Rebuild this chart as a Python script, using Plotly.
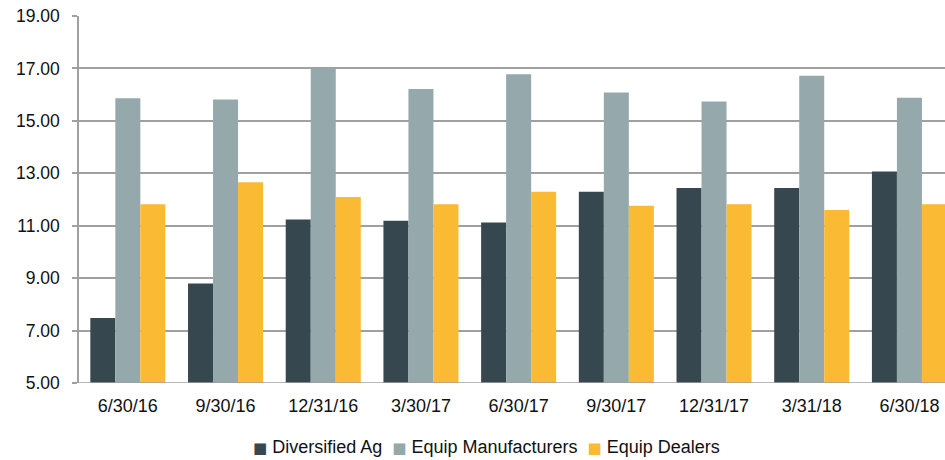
import plotly.graph_objects as go

# Quarter-end dates
quarters = ["6/30/16", "9/30/16", "12/31/16", "3/30/17", "6/30/17",
            "9/30/17", "12/31/17", "3/31/18", "6/30/18"]

# Valuation multiples by peer group
diversified_ag = [7.48, 8.80, 11.24, 11.19, 11.12, 12.30, 12.44, 12.44, 13.07]
equip_manufacturers = [15.86, 15.81, 17.00, 16.22, 16.78, 16.08, 15.74, 16.72, 15.88]
equip_dealers = [11.82, 12.66, 12.10, 11.82, 12.30, 11.76, 11.82, 11.60, 11.82]

series_names = ["Diversified Ag", "Equip Manufacturers", "Equip Dealers"]
series_values = [diversified_ag, equip_manufacturers, equip_dealers]
series_colors = ["#37474F", "#95A8AC", "#FBBA34"]

FONT = "Liberation Sans, Arial, sans-serif"
GRID = "#A0A0A0"

fig = go.Figure()
for name, vals, color in zip(series_names, series_values, series_colors):
    fig.add_trace(go.Bar(
        x=quarters, y=vals, name=name,
        marker=dict(color=color, line=dict(width=0)),
    ))

# Compact legend line: coloured squares followed by series names
legend_parts = [
    f'<span style="color:{c};font-size:15px;font-family:DejaVu Sans">■</span>&nbsp;{n}'
    for n, c in zip(series_names, series_colors)
]
legend_text = "&nbsp;&nbsp;".join(legend_parts)

fig.update_layout(
    width=945, height=460,
    margin=dict(l=79, r=0, t=16, b=77),
    paper_bgcolor="white", plot_bgcolor="white",
    barmode="group", bargap=0.232, bargroupgap=0,
    font=dict(family=FONT, size=18, color="#111111"),
    showlegend=False,
    xaxis=dict(
        type="category", range=[-0.5, 8.364],
        showline=False, showgrid=False, zeroline=False,
        ticks="", tickfont=dict(size=18), ticklabelstandoff=10,
    ),
    yaxis=dict(
        range=[5, 19], dtick=2, tick0=5, tickformat=".2f",
        showgrid=True, gridcolor=GRID, gridwidth=1.5,
        showline=True, linecolor=GRID, linewidth=1.5,
        ticks="outside", ticklen=5, tickcolor=GRID, tickwidth=1.5,
        ticklabelstandoff=9, zeroline=False,
        tickfont=dict(size=17.5),
    ),
    annotations=[dict(
        text=legend_text, xref="paper", yref="paper",
        x=0.47, y=-0.1744, xanchor="center", yanchor="middle",
        showarrow=False, font=dict(family=FONT, size=18, color="#111111"),
    )],
)

# Baseline at the bottom of the value axis
fig.add_shape(type="line", xref="paper", yref="y", x0=0, x1=1, y0=5, y1=5,
              line=dict(color=GRID, width=1.5), layer="above")

fig.write_html("out.html")
